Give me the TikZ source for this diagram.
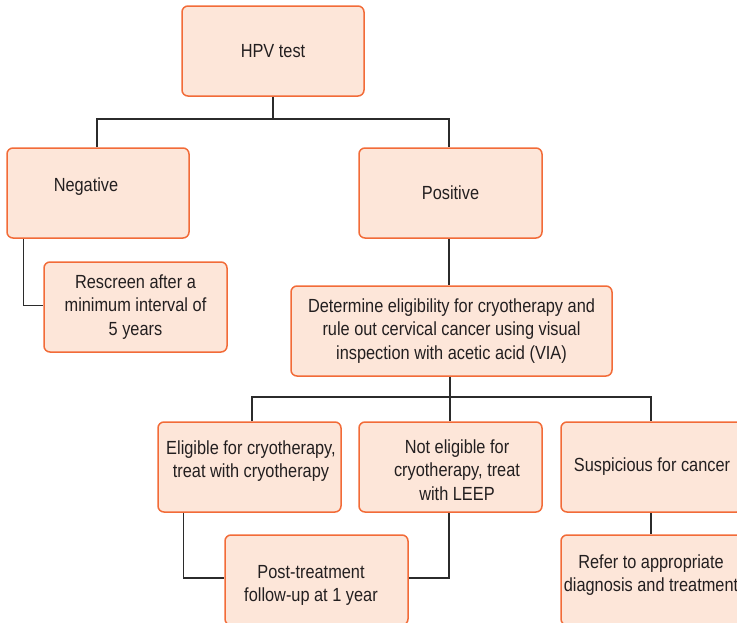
\documentclass[tikz,border=0pt]{standalone}
\usepackage{fontspec}
\setmainfont[FakeStretch=0.86]{Liberation Sans}
\usetikzlibrary{calc}
\definecolor{boxfill}{HTML}{FDE6D9}
\definecolor{boxline}{HTML}{F26B38}
\definecolor{linkcol}{HTML}{2B2B2B}
\definecolor{txtcol}{HTML}{231F20}
\begin{document}
\begin{tikzpicture}[x=1pt,y=-1pt,
  box/.style={draw=boxline,fill=boxfill,line width=1.5pt,rounded corners=6pt,
    minimum width=182pt,minimum height=90pt,inner sep=0pt,align=center,
    text=txtcol,font=\fontsize{19}{23.5}\selectfont},
  lbl/.style={inner sep=0pt,align=center,text=txtcol,font=\fontsize{19}{23.5}\selectfont},
  link/.style={draw=linkcol,line width=1.4pt}]
\useasboundingbox (0,0) rectangle (737,622);
\clip (0,0) rectangle (737,622);
% boxes
\node[box] (hpv) at (273,51) {HPV test};
\node[box] (neg) at (98,193) {};
\node[lbl] at (86,187) {Negative};
\node[box,minimum width=183pt] (resc) at (135.5,307) {Rescreen after a\\minimum interval of\\5 years};
\node[box,minimum width=183pt] (pos) at (450.5,193) {Positive};
\node[box,minimum width=321pt] (det) at (451.5,331) {Determine eligibility for cryotherapy and\\rule out cervical cancer using visual\\inspection with acetic acid (VIA)};
\node[box,minimum width=183pt] (elig) at (249.5,467) {};
\node[lbl] at (251,461) {Eligible for cryotherapy,\\treat with cryotherapy};
\node[box,minimum width=183pt] (notel) at (450.5,467) {};
\node[lbl] at (457,470) {Not eligible for\\cryotherapy, treat\\with LEEP};
\node[box] (susp) at (652,467) {Suspicious for cancer};
\node[box,minimum width=183pt] (post) at (316.5,580) {};
\node[lbl] at (311,585.5) {Post-treatment\\follow-up at 1 year};
\node[box] (refer) at (652,580) {};
\node[lbl] at (651,575) {Refer to appropriate\\diagnosis and treatment};
% junctions
\coordinate (j1) at (273,119);
\coordinate (j2) at (450,397);
% connectors
\draw[link] (hpv.south) -- (j1);
\draw[link] ($(neg.north)+(-1,0)$) |- (j1) -| ($(pos.north)+(-1.5,0)$);
\draw[link] ($(neg.south west)+(17,0)$) |- ($(resc.west)+(0,-1.5)$);
\draw[link] ($(pos.south)+(-1.5,0)$) -- ($(det.north)+(-2.5,0)$);
\draw[link] ($(det.south)+(-1.5,0)$) -- (j2);
\draw[link] ($(elig.north)+(2.5,0)$) |- (j2) -| ($(susp.north)+(-1,0)$);
\draw[link] (j2) -- ($(notel.north)+(-0.5,0)$);
\draw[link] ($(elig.south west)+(26,0)$) |- ($(post.west)+(0,-2)$);
\draw[link] ($(notel.south)+(-1.5,0)$) |- ($(post.east)+(0,-2)$);
\draw[link] ($(susp.south)+(-1,0)$) -- ($(refer.north)+(-1,0)$);
\end{tikzpicture}
\end{document}
